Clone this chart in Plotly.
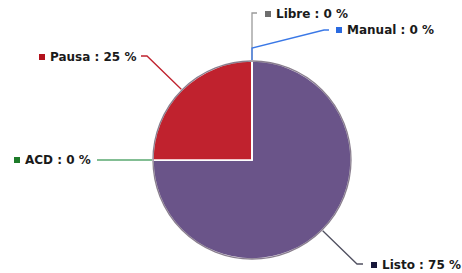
import math
import plotly.graph_objects as go

# ---- data ----
labels = ["Listo", "ACD", "Pausa", "Libre", "Manual"]
values = [75, 0, 25, 0, 0]
slice_colors = ["#6a5489", "#1e7b2a", "#c0222e", "#6e6e6e", "#2a6ae0"]
key_colors = ["#17173a", "#1e7b2a", "#b3121c", "#6e6e6e", "#2a6ae0"]
line_colors = ["#505060", "#5aa870", "#c0222e", "#9a9a9a", "#3a78e6"]

# ---- layout constants (pixels) ----
W, H = 462, 273
CX, CY, R = 252, 160, 99
label_layout = {
    "Listo": dict(key=(374, 265), path=[(357, 264), (363, 264)]),
    "ACD": dict(key=(17, 160), path=[(97, 160)]),
    "Pausa": dict(key=(42, 57), path=[(147, 56), (141, 56)]),
    "Libre": dict(key=(268, 14), path=[(252, 13), (257, 13)]),
    "Manual": dict(key=(339, 30), path=[(252, 48), (324, 30), (329, 30)]),
}
KEY = 6


def px(x):
    return x / W


def py(y):
    return 1 - y / H


fig = go.Figure()
fig.add_trace(go.Pie(
    labels=labels, values=values, sort=False, direction="clockwise", rotation=0,
    marker=dict(colors=slice_colors, line=dict(color="white", width=1.5)),
    textinfo="none", hoverinfo="label+percent", showlegend=False,
    domain=dict(x=[px(CX - R), px(CX + R)], y=[py(CY + R), py(CY - R)]),
))

shapes = []
annotations = []
total = sum(values)
cum = 0
for lab, v, kc, lc in zip(labels, values, key_colors, line_colors):
    mid = (cum + v / 2) / total * 2 * math.pi
    cum += v
    sx = CX + (R + 1) * math.sin(mid)
    sy = CY - (R + 1) * math.cos(mid)
    lay = label_layout[lab]
    pts = [(sx, sy)] + lay["path"]
    d = "M " + " L ".join(f"{px(x):.5f},{py(y):.5f}" for x, y in pts)
    shapes.append(dict(type="path", path=d, xref="paper", yref="paper",
                       line=dict(color=lc, width=1.3)))
    kx, ky = lay["key"]
    shapes.append(dict(type="rect", xref="paper", yref="paper",
                       x0=px(kx - KEY / 2), x1=px(kx + KEY / 2),
                       y0=py(ky + KEY / 2), y1=py(ky - KEY / 2),
                       fillcolor=kc, line=dict(width=0)))
    pct = round(v / total * 100)
    annotations.append(dict(
        x=px(kx + KEY / 2 + 3), y=py(ky), xref="paper", yref="paper",
        xanchor="left", yanchor="middle", showarrow=False,
        text=f"<b>{lab} : {pct} %</b>",
        font=dict(family="DejaVu Sans", size=12, color="#1a1a1a"),
    ))

# subtle rim around the pie
shapes.append(dict(type="circle", xref="paper", yref="paper",
                   x0=px(CX - R), x1=px(CX + R), y0=py(CY + R), y1=py(CY - R),
                   line=dict(color="rgba(40,20,50,0.55)", width=1.3)))

fig.update_layout(
    width=W, height=H, margin=dict(l=0, r=0, t=0, b=0),
    paper_bgcolor="white", plot_bgcolor="white",
    shapes=shapes, annotations=annotations,
)
fig.write_html("out.html", config={"displayModeBar": False},
               post_script="document.body.style.margin='0';")
